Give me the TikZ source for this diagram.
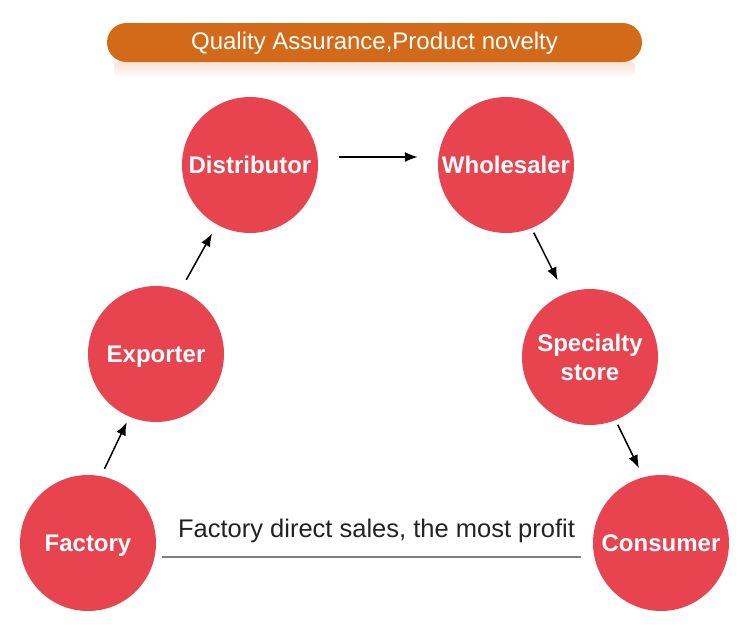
\documentclass[tikz,border=0pt]{standalone}
\usepackage{fontspec}
\setmainfont{Liberation Sans}
\usetikzlibrary{arrows.meta}
\definecolor{ballred}{RGB}{231,68,80}
\definecolor{bannerorange}{RGB}{210,106,26}
\definecolor{textdark}{RGB}{34,34,34}

\begin{document}
\begin{tikzpicture}[x=1pt,y=-1pt,
  ball/.style={circle,fill=ballred,minimum size=136pt,inner sep=0pt,text=white,
    font=\fontsize{24}{29}\selectfont\bfseries,align=center,text height=17pt,text depth=0pt},
  arr/.style={-{Latex[length=13pt,width=10pt]},line width=1.5pt},
  base/.style={draw=gray,line width=1.4pt}]
\useasboundingbox (0,0) rectangle (750,632);
% banner on top
\shade[top color=bannerorange!20,bottom color=white,rounded corners=6pt] (114,61) rectangle (635,78);
\fill[bannerorange,rounded corners=19.5pt] (107,23) rectangle (642,62);
\node (title) [anchor=base,text=white,font=\fontsize{24}{24}\selectfont] at (374.5,49) {Quality Assurance,Product novelty};
% the six stations
\node (fac) [ball] at (88,543) {Factory};
\node (exp) [ball] at (156,354) {Exporter};
\node (dis) [ball] at (250,165) {Distributor};
\node (who) [ball] at (506,165) {Wholesaler};
\node (spe) [ball,text height=46pt] at (590,357) {Specialty\\store};
\node (con) [ball] at (661,543) {Consumer};
% arrows
\draw[arr,shorten <=8pt,shorten >=6pt] (fac.79) -- (exp.247);
\draw[arr,shorten <=12pt,shorten >=10pt] (exp.69) -- (dis.241);
\draw[arr,shorten <=21pt,shorten >=20pt] ([yshift=8pt]dis.east) -- ([yshift=8pt]who.west);
\draw[arr,shorten <=5pt,shorten >=15pt] (who.292) -- (spe.112);
\draw[arr,shorten <=5pt,shorten >=10pt] (spe.292) -- (con.105);
% direct line
\draw[base,shorten <=6pt,shorten >=12pt] ([yshift=-14pt]fac.east) -- ([yshift=-14pt]con.west);
\node (direct) [anchor=base,text=textdark,font=\fontsize{25.5}{26}\selectfont] at (376.5,537) {Factory direct sales, the most profit};
\end{tikzpicture}
\end{document}
